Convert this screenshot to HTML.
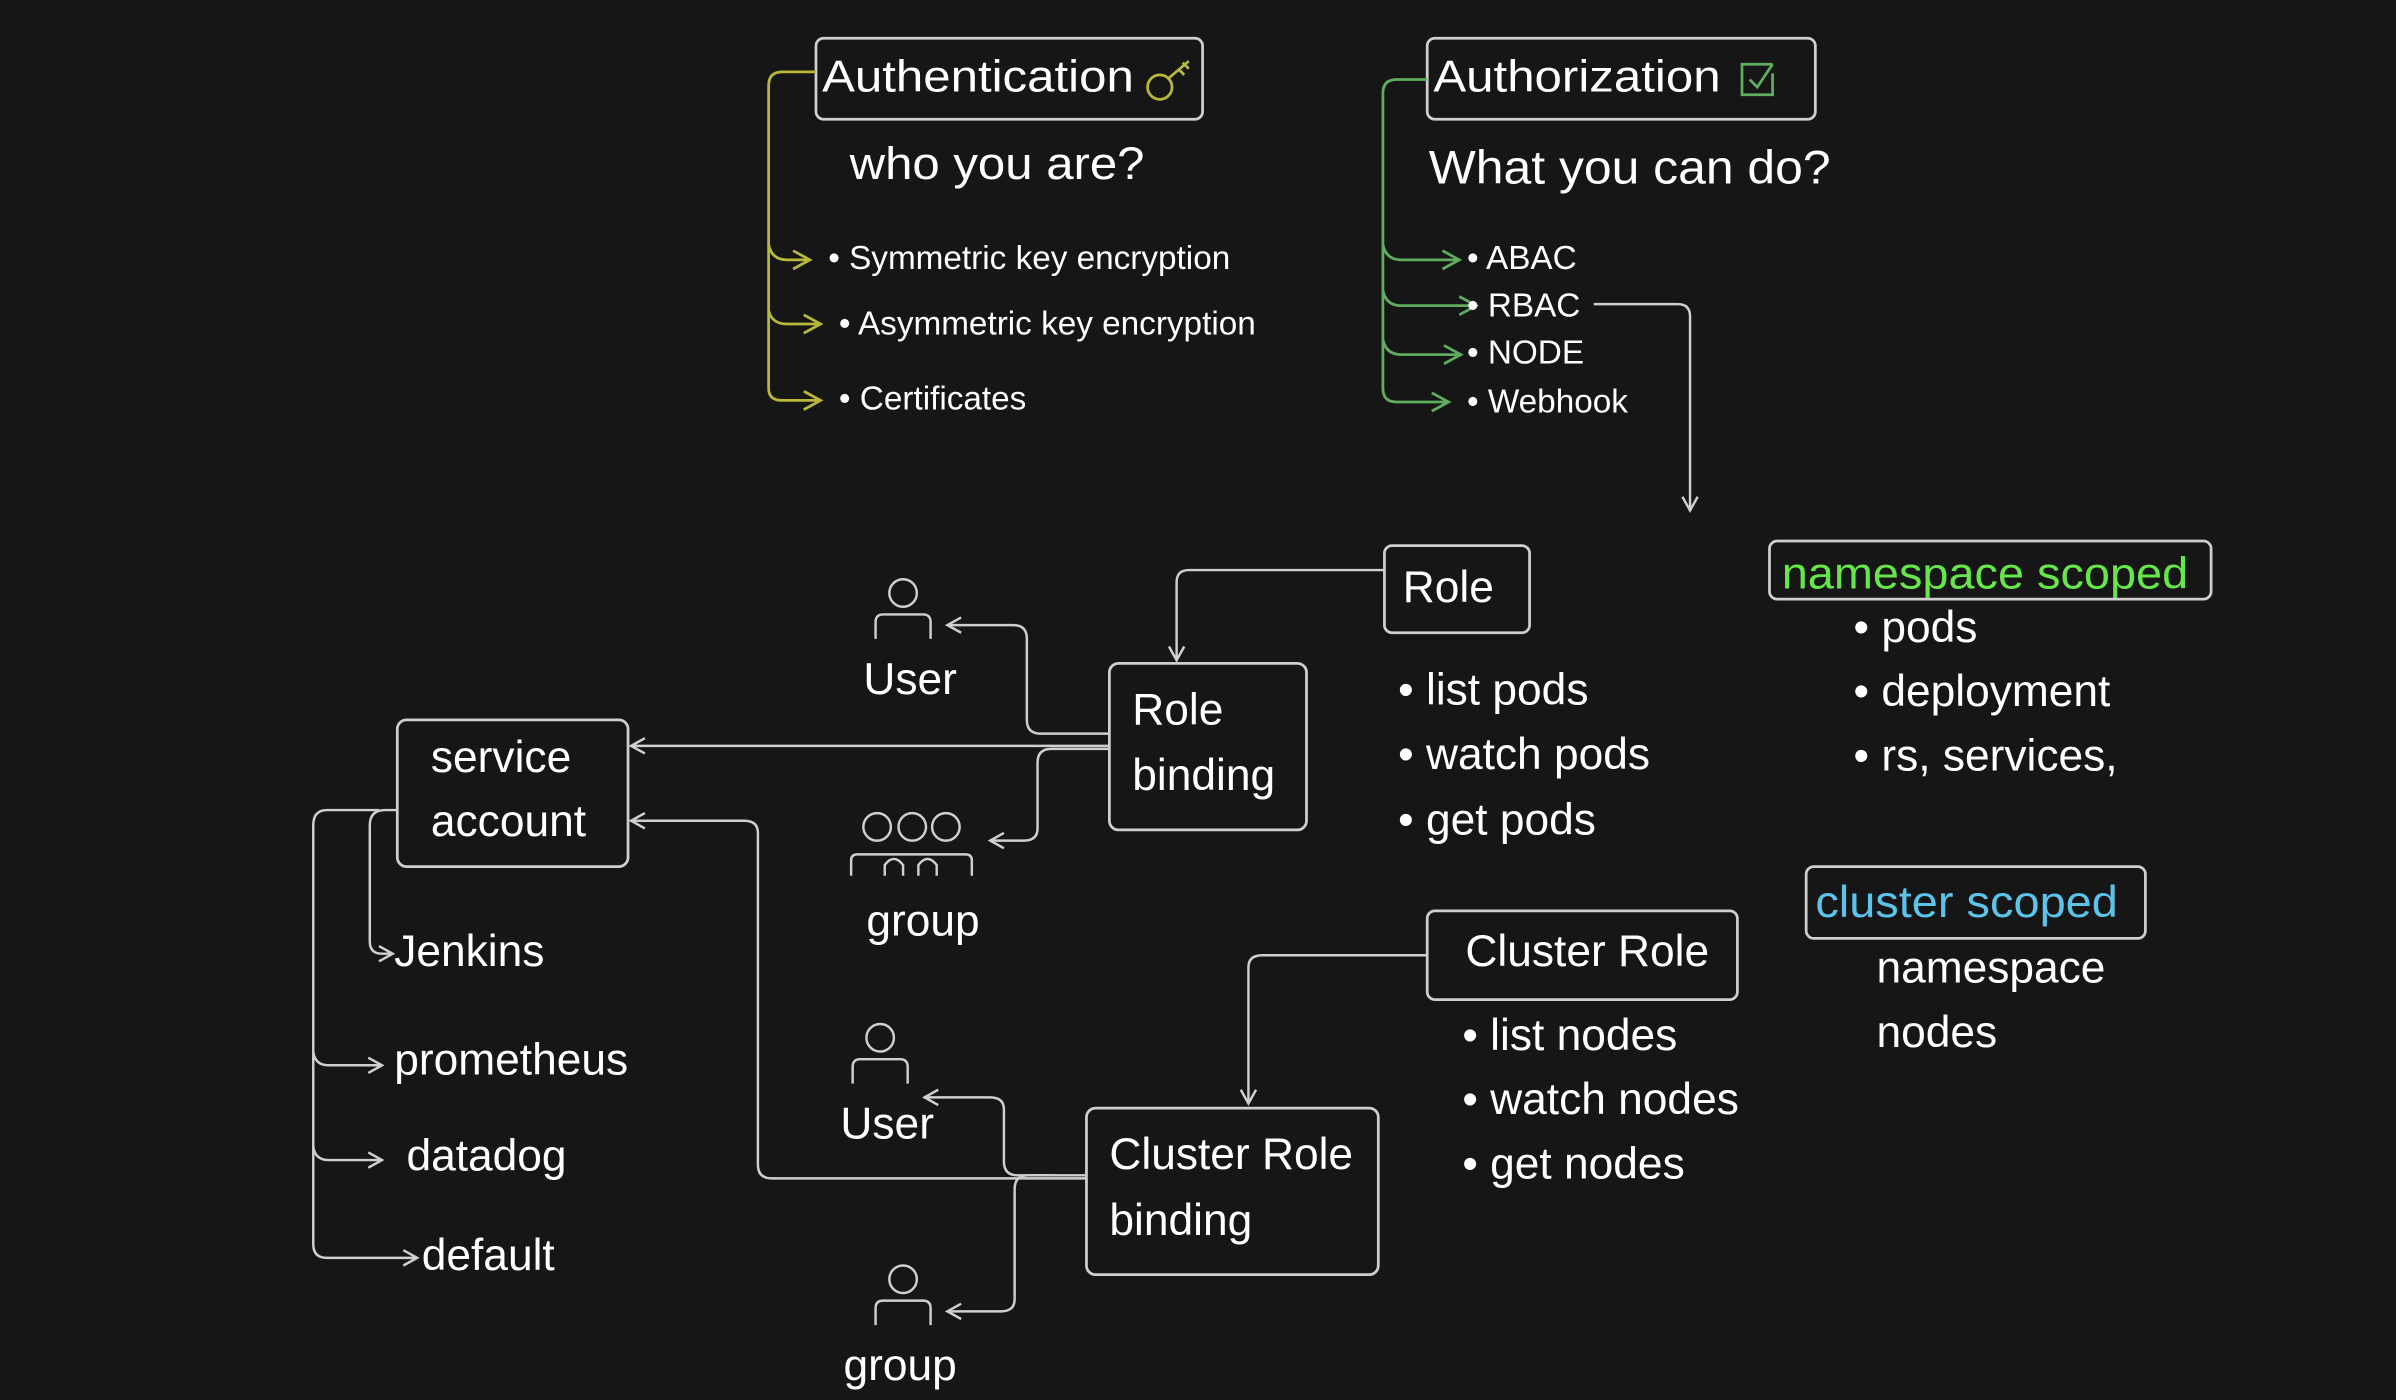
<!DOCTYPE html>
<html><head><meta charset="utf-8"><style>
html,body{margin:0;padding:0;background:#161616;}
svg{display:block}
text{font-family:"Liberation Sans",sans-serif;fill:#fff;}
</style></head><body>
<svg width="2396" height="1400" viewBox="0 0 1568 916" preserveAspectRatio="none" xmlns="http://www.w3.org/2000/svg">
<rect width="1568" height="916" fill="#161616"/>
<defs>
<marker id="aw" markerWidth="12" markerHeight="12" refX="10" refY="6" orient="auto" markerUnits="userSpaceOnUse"><path d="M1,1 L10,6 L1,11" fill="none" stroke="#d0d0d0" stroke-width="1.6"/></marker>
<marker id="ay" markerWidth="14" markerHeight="14" refX="12" refY="7" orient="auto" markerUnits="userSpaceOnUse"><path d="M1,1 L12,7 L1,13" fill="none" stroke="#b8b83a" stroke-width="1.8"/></marker>
<marker id="ag" markerWidth="14" markerHeight="14" refX="12" refY="7" orient="auto" markerUnits="userSpaceOnUse"><path d="M1,1 L12,7 L1,13" fill="none" stroke="#5fae5f" stroke-width="1.8"/></marker>
</defs>
<g fill="none" stroke="#cfcfcf" stroke-width="1.8">
<rect x="534" y="25" width="253" height="53" rx="5"/>
<rect x="934" y="25" width="254" height="53" rx="5"/>
<rect x="1158" y="354" width="289" height="38" rx="5"/>
<rect x="1182" y="567" width="222" height="47" rx="5"/>
<rect x="906" y="357" width="95" height="57" rx="5"/>
<rect x="726" y="434" width="129" height="109" rx="6"/>
<rect x="260" y="471" width="151" height="96" rx="6"/>
<rect x="934" y="596" width="203" height="58" rx="5"/>
<rect x="711" y="725" width="191" height="109" rx="6"/>
</g>
<g fill="none" stroke="#b8b83a" stroke-width="1.8">
<path d="M534,47 L512,47 Q503,47 503,56 L503,254 Q503,262 512,262 L537,262" marker-end="url(#ay)"/>
<path d="M503,160 Q505,170 515,170 L530,170" marker-end="url(#ay)"/>
<path d="M503,203 Q505,212 515,212 L537,212" marker-end="url(#ay)"/>
<circle cx="759" cy="57" r="8"/><path d="M765,51 L778,40 M771,45 l4,4 M774,41 l4,4"/>
</g>
<g fill="none" stroke="#5fae5f" stroke-width="1.8">
<path d="M934,52 L914,52 Q905,52 905,61 L905,254 Q905,263 914,263 L948,263" marker-end="url(#ag)"/>
<path d="M905,160 Q907,170 917,170 L955,170" marker-end="url(#ag)"/>
<path d="M905,190 Q907,200 917,200 L966,200" marker-end="url(#ag)"/>
<path d="M905,222 Q907,232 917,232 L956,232" marker-end="url(#ag)"/>
<path d="M1160,42 L1140,42 L1140,62 L1160,62 L1160,48 M1145,52 L1150,57 L1160,42"/>
</g>
<g fill="none" stroke="#cfcfcf" stroke-width="1.6">
<path d="M1043,199 L1098,199 Q1106,199 1106,207 L1106,334" marker-end="url(#aw)"/>
<path d="M906,373 L778,373 Q770,373 770,381 L770,432" marker-end="url(#aw)"/>
<path d="M726,480 L681,480 Q672,480 672,471 L672,418 Q672,409 663,409 L620,409" marker-end="url(#aw)"/>
<path d="M726,488 L413,488" marker-end="url(#aw)"/>
<path d="M726,490 L688,490 Q679,490 679,499 L679,542 Q679,550 670,550 L648,550" marker-end="url(#aw)"/>
<path d="M711,771 L505,771 Q496,771 496,762 L496,545 Q496,537 487,537 L413,537" marker-end="url(#aw)"/>
<path d="M711,769 L666,769 Q657,769 657,760 L657,726 Q657,718 648,718 L605,718" marker-end="url(#aw)"/>
<path d="M690,769 L673,769 Q664,769 664,778 L664,850 Q664,858 655,858 L620,858" marker-end="url(#aw)"/>
<path d="M934,625 L826,625 Q817,625 817,633 L817,722" marker-end="url(#aw)"/>
<path d="M260,530 L252,530 Q242,530 242,540 L242,616 Q242,624 250,624 L257,624" marker-end="url(#aw)"/>
<path d="M248,530 L214,530 Q205,530 205,540 L205,814 Q205,823 214,823 L273,823" marker-end="url(#aw)"/>
<path d="M205,688 Q206,697 215,697 L250,697" marker-end="url(#aw)"/>
<path d="M205,750 Q206,759 215,759 L250,759" marker-end="url(#aw)"/>
<circle cx="591" cy="388" r="9"/><path d="M573,418 L573,407 Q573,402 578,402 L604,402 Q609,402 609,407 L609,418"/>
<circle cx="576" cy="679" r="9"/><path d="M558,709 L558,698 Q558,693 563,693 L589,693 Q594,693 594,698 L594,709"/>
<circle cx="591" cy="837" r="9"/><path d="M573,867 L573,856 Q573,851 578,851 L604,851 Q609,851 609,856 L609,867"/>
<circle cx="574" cy="541" r="9"/><circle cx="597" cy="541" r="9"/><circle cx="619" cy="541" r="9"/>
<path d="M557,573 L557,563 Q557,559 561,559 L632,559 Q636,559 636,563 L636,573"/>
<path d="M579,573 L579,566 Q585,558 591,566 L591,573 M601,573 L601,566 Q607,558 613,566 L613,573"/>
</g>
<text x="538" y="60" font-size="29" textLength="204" lengthAdjust="spacingAndGlyphs">Authentication</text>
<text x="938" y="60" font-size="29" textLength="188" lengthAdjust="spacingAndGlyphs">Authorization</text>
<text x="556" y="117" font-size="30" textLength="193" lengthAdjust="spacingAndGlyphs">who you are?</text>
<text x="935" y="120" font-size="31" textLength="263" lengthAdjust="spacingAndGlyphs">What you can do?</text>
<g font-size="21.8">
<text x="542" y="176">• Symmetric key encryption</text>
<text x="549" y="219">• Asymmetric key encryption</text>
<text x="549" y="268">• Certificates</text>
<text x="960" y="176">• ABAC</text>
<text x="960" y="207">• RBAC</text>
<text x="960" y="238">• NODE</text>
<text x="960" y="270">• Webhook</text>
</g>
<g font-size="29">
<text x="1166" y="385" style="fill:#66e64a" textLength="266" lengthAdjust="spacingAndGlyphs">namespace scoped</text>
<text x="1213" y="420">• pods</text>
<text x="1213" y="462">• deployment</text>
<text x="1213" y="504">• rs, services,</text>
<text x="1188" y="600" style="fill:#5cc4ea" textLength="198" lengthAdjust="spacingAndGlyphs">cluster scoped</text>
<text x="1228" y="643">namespace</text>
<text x="1228" y="685">nodes</text>
<text x="918" y="394">Role</text>
<text x="741" y="474">Role</text>
<text x="741" y="517">binding</text>
<text x="915" y="461">• list pods</text>
<text x="915" y="503">• watch pods</text>
<text x="915" y="546">• get pods</text>
<text x="565" y="454">User</text>
<text x="567" y="612">group</text>
<text x="282" y="505">service</text>
<text x="282" y="547">account</text>
<text x="258" y="632">Jenkins</text>
<text x="258" y="703">prometheus</text>
<text x="266" y="766">datadog</text>
<text x="276" y="831">default</text>
<text x="959" y="632">Cluster Role</text>
<text x="957" y="687">• list nodes</text>
<text x="957" y="729">• watch nodes</text>
<text x="957" y="771">• get nodes</text>
<text x="726" y="765">Cluster Role</text>
<text x="726" y="808">binding</text>
<text x="550" y="745">User</text>
<text x="552" y="903">group</text>
</g>
</svg>
</body></html>
